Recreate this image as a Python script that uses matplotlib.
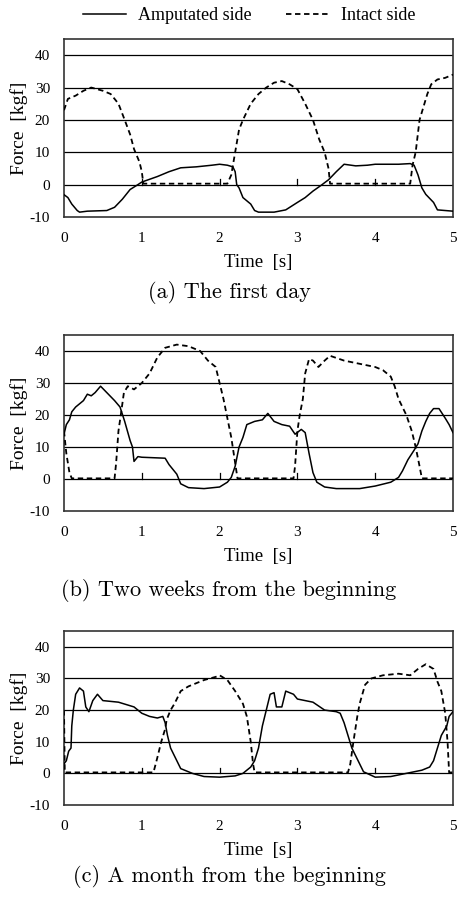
import matplotlib
matplotlib.use("Agg")
import matplotlib.pyplot as plt
from matplotlib.lines import Line2D

plt.rcParams['font.family'] = ['Liberation Serif', 'DejaVu Serif']
plt.rcParams['axes.unicode_minus'] = False

# --- data (time in s, force in kgf) ---
# (a) the first day
a_amp_t = [0, 0.05, 0.1, 0.17, 0.2, 0.3, 0.55, 0.65, 0.75, 0.85, 0.95, 1.0, 1.2, 1.35, 1.5,
           1.7, 1.9, 2.0, 2.1, 2.17, 2.2, 2.22, 2.25, 2.3, 2.4, 2.45, 2.5, 2.7, 2.85, 3.0,
           3.1, 3.2, 3.3, 3.4, 3.5, 3.6, 3.75, 3.9, 4.0, 4.3, 4.45, 4.5, 4.55, 4.6, 4.65,
           4.75, 4.8, 4.9, 5.0]
a_amp_f = [-3.1, -4, -6, -8, -8.5, -8.2, -8, -7, -4.5, -1.5, 0, 0.8, 2.5, 4, 5.2,
           5.5, 6, 6.3, 6, 5.5, 4, 0, -1, -4, -6, -8, -8.5, -8.5, -7.8, -5.5,
           -4, -2, -0.3, 1.5, 4, 6.3, 5.8, 6, 6.3, 6.3, 6.5, 6, 3, -1, -3,
           -5.5, -7.8, -8, -8.2]
a_int_t = [0, 0.05, 0.15, 0.25, 0.35, 0.5, 0.6, 0.7, 0.78, 0.85, 0.9, 0.97, 1.0, 1.02,
           2.1, 2.15, 2.2, 2.25, 2.3, 2.4, 2.5, 2.6, 2.7, 2.8, 2.9, 3.0, 3.1, 3.2, 3.28,
           3.35, 3.4, 3.42, 4.45, 4.48, 4.52, 4.57, 4.62, 4.67, 4.72, 4.8, 4.9, 5.0]
a_int_f = [23, 26.5, 27.5, 29, 30, 29, 28, 25, 20, 15.5, 11, 7, 4, 0.3,
           0.3, 3, 10, 17, 20, 25, 28, 30, 31.5, 32, 31, 29.5, 25, 20, 14,
           10, 5, 0.3, 0.3, 6, 10, 20, 24, 28, 31, 32.5, 33, 34]

# (b) two weeks from the beginning
b_amp_t = [0, 0.03, 0.07, 0.1, 0.15, 0.25, 0.3, 0.35, 0.4, 0.47, 0.55, 0.65, 0.72, 0.78,
           0.85, 0.88, 0.9, 0.95, 1.0, 1.3, 1.35, 1.45, 1.5, 1.6, 1.8, 2.0, 2.1, 2.15, 2.2,
           2.25, 2.3, 2.35, 2.45, 2.55, 2.62, 2.7, 2.8, 2.9, 2.97, 3.05, 3.1, 3.15, 3.2,
           3.25, 3.35, 3.5, 3.8, 4.0, 4.2, 4.3, 4.35, 4.42, 4.5, 4.55, 4.6, 4.65, 4.7,
           4.75, 4.82, 4.9, 4.95, 5.0]
b_amp_f = [14, 17, 18.5, 21, 22.5, 24.5, 26.5, 26, 27, 29, 27, 24.5, 22.5, 18,
           12, 10, 5.5, 7, 6.8, 6.5, 4.5, 1.5, -1.5, -2.7, -3, -2.5, -1, 0.5, 4,
           10, 13, 17, 18, 18.5, 20.5, 18, 17, 16.5, 14, 15.5, 14.5, 8, 2,
           -1, -2.5, -3, -3, -2.2, -1, 0.5, 2.5, 6, 9, 11, 15, 18, 20.5,
           22, 22, 19, 17, 14.5]
b_int_t = [0, 0.03, 0.07, 0.1, 0.65, 0.67, 0.7, 0.73, 0.77, 0.82, 0.9, 1.0, 1.1, 1.2, 1.3,
           1.45, 1.6, 1.75, 1.85, 1.95, 2.0, 2.05, 2.1, 2.15, 2.2, 2.23, 2.95, 2.97, 3.0,
           3.03, 3.07, 3.1, 3.15, 3.2, 3.27, 3.35, 3.42, 3.6, 3.8, 4.0, 4.1, 4.2, 4.25,
           4.3, 4.4, 4.47, 4.52, 4.57, 4.6, 5.0]
b_int_f = [15, 8, 2, 0.2, 0.2, 5, 15, 20, 27, 29, 28, 30, 33, 38, 41,
           42, 41.5, 40, 37, 35, 30, 25, 19, 13, 5, 0.2, 0.2, 4, 15,
           20, 25, 33, 37.5, 37, 35, 37, 38.5, 37, 36, 35, 34, 32, 29,
           25, 20, 15, 10, 4, 0.2, 0.2]

# (c) a month from the beginning
c_amp_t = [0, 0.03, 0.06, 0.09, 0.1, 0.12, 0.15, 0.2, 0.25, 0.28, 0.32, 0.37, 0.43, 0.5,
           0.7, 0.9, 1.0, 1.1, 1.2, 1.27, 1.3, 1.33, 1.37, 1.45, 1.5, 1.65, 1.8, 2.0, 2.2,
           2.3, 2.4, 2.45, 2.5, 2.55, 2.6, 2.65, 2.7, 2.73, 2.8, 2.85, 2.95, 3.0, 3.2,
           3.35, 3.5, 3.55, 3.6, 3.65, 3.7, 3.8, 3.85, 4.0, 4.2, 4.4, 4.6, 4.7, 4.75,
           4.8, 4.85, 4.92, 4.95, 5.0]
c_amp_f = [3, 4, 7, 8, 15, 20, 25, 27, 26, 21, 19.5, 23, 25, 23,
           22.5, 21, 19, 18, 17.5, 18, 16, 12, 8, 4, 1.5, 0, -1, -1.2, -0.8,
           0, 2, 4, 8, 15, 20, 25, 25.5, 21, 21, 26, 25, 23.5, 22.5,
           20, 19.5, 19, 16, 12, 8, 3, 0.5, -1.2, -1, 0, 1, 2, 4,
           8, 12, 15, 18, 19.5]
c_int_t = [0, 0.01, 1.15, 1.2, 1.25, 1.3, 1.32, 1.37, 1.42, 1.5, 1.6, 1.8, 1.95, 2.0, 2.1,
           2.2, 2.3, 2.35, 2.4, 2.43, 2.45, 3.65, 3.68, 3.72, 3.77, 3.8, 3.87, 3.95, 4.1,
           4.3, 4.45, 4.55, 4.65, 4.75, 4.8, 4.85, 4.9, 4.93, 4.95, 5.0]
c_int_f = [20, 0.3, 0.3, 5, 10, 14, 17, 20, 22, 26, 27.5, 29.5, 30.5, 31, 29.5,
           26, 22, 18, 10, 3, 0.3, 0.3, 3, 10, 18, 22, 28, 30, 31,
           31.5, 31, 33, 34.5, 33, 29, 26, 19, 10, 0.3, 0.3]

y_ticks = [-10, 0, 10, 20, 30, 40]
x_ticks = [0, 1, 2, 3, 4, 5]
captions = ["(a) The first day", "(b) Two weeks from the beginning",
            "(c) A month from the beginning"]

panels = [
    (a_amp_t, a_amp_f, a_int_t, a_int_f),
    (b_amp_t, b_amp_f, b_int_t, b_int_f),
    (c_amp_t, c_amp_f, c_int_t, c_int_f),
]

W, H = 458, 899
fig = plt.figure(figsize=(W / 100, H / 100), dpi=100)

# axes boxes in pixels: (top, bottom), caption centre y
boxes = [(39, 217, 293), (335, 511, 590), (631, 805, 877)]
left_px, right_px = 64, 453
dash = (0, (3, 2))

for (top, bot, cap_y), (at, af, it, iff), cap in zip(boxes, panels, captions):
    ax = fig.add_axes([left_px / W, 1 - bot / H, (right_px - left_px) / W, (bot - top) / H])
    ax.set_xlim(0, 5)
    ax.set_ylim(-10, 45)
    for g in [0, 10, 20, 30, 40]:
        ax.axhline(g, color='black', lw=0.9, zorder=1)
    # small inward ticks on the zero line
    for x in x_ticks[1:-1]:
        ax.plot([x, x], [0, 1.8], color='black', lw=0.9, zorder=1)
    ax.plot(at, af, color='black', lw=1.1, zorder=3)
    ax.plot(it, iff, color='black', lw=1.3, linestyle=dash, zorder=3)
    ax.set_yticks(y_ticks)
    ax.set_xticks(x_ticks)
    ax.tick_params(axis='x', length=0, labelsize=11, pad=11)
    ax.tick_params(axis='y', length=0, labelsize=11, pad=10)
    for s in ax.spines.values():
        s.set_color('#333333')
        s.set_linewidth(1.2)
    ax.set_ylabel("Force  [kgf]", fontsize=14, labelpad=1)
    ax.set_xlabel("Time  [s]", fontsize=13.5, labelpad=6)
    fig.text(0.5, 1 - cap_y / H, cap, ha='center', va='center',
             fontsize=16, family='cmr10')

handles = [Line2D([], [], color='black', lw=1.1),
           Line2D([], [], color='black', lw=1.3, linestyle=dash)]
fig.legend(handles, ["Amputated side", "Intact side"], loc='center',
           bbox_to_anchor=(0.544, 1 - 16 / H), ncol=2, frameon=False,
           fontsize=13, handlelength=2.4, columnspacing=1.9, handletextpad=0.65)

fig.savefig("out.png", dpi=100)
